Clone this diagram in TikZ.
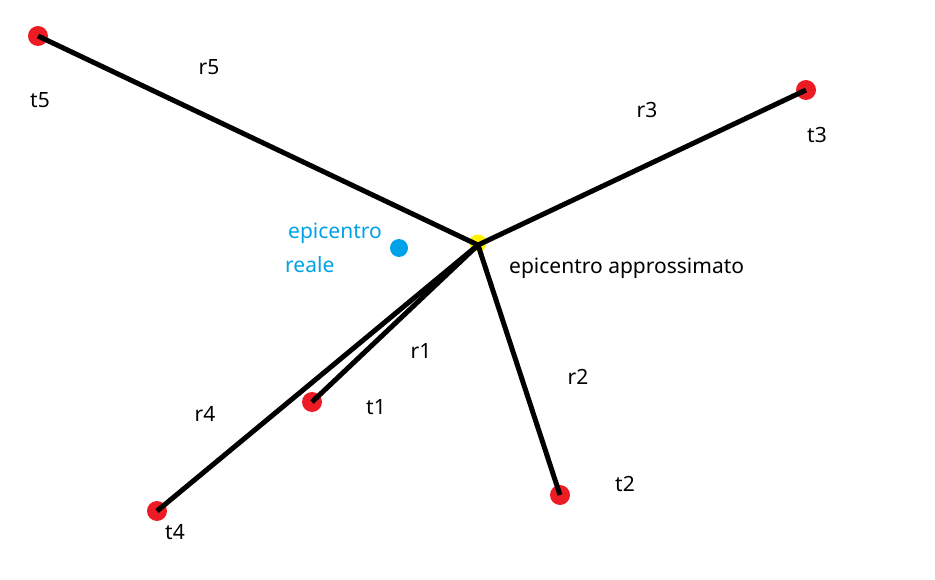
\documentclass[tikz,border=0pt]{standalone}
\usepackage{fontspec}
\setmainfont{Noto Sans}
\definecolor{pred}{HTML}{ED1C24}
\definecolor{pyel}{HTML}{FFF200}
\definecolor{pblue}{HTML}{00A2E8}
\begin{document}
\begin{tikzpicture}[x=1pt,y=-1pt,
  lbl/.style={inner sep=0pt,font=\fontsize{21}{25}\selectfont},
  station/.style={circle,fill=pred,minimum size=20pt,inner sep=0pt},
  ray/.style={line width=5pt,black}]
\useasboundingbox (0,0) rectangle (935,580);
\fill[white] (0,0) rectangle (935,580);
% stations
\node[station] (t5) at (38,36) {};
\node[station] (t3) at (806,90) {};
\node[station] (t1) at (312,402) {};
\node[station] (t4) at (157,511) {};
\node[station] (t2) at (560,495) {};
\node[circle,fill=pyel,minimum size=17pt,inner sep=0pt] (E) at (478,243) {};
\node[circle,fill=pblue,minimum size=18pt,inner sep=0pt] (R) at (399,248) {};
% rays
\draw[ray] (478,245) coordinate (Ec) -- (t5.center);
\draw[ray] (Ec) -- (t3.center);
\draw[ray] (Ec) -- (t1.center);
\draw[ray] (Ec) -- (t4.center);
\draw[ray] (Ec) -- (t2.center);
% labels
\node[lbl] (lr5) at (209,67) {r5};
\node[lbl] (lt5) at (40,100) {t5};
\node[lbl] (lr3) at (647,110) {r3};
\node[lbl] (lt3) at (817,135) {t3};
\node[lbl] (lr1) at (421,351) {r1};
\node[lbl] (lr2) at (578,377) {r2};
\node[lbl] (lr4) at (205,414) {r4};
\node[lbl] (lt1) at (376,407) {t1};
\node[lbl] (lt2) at (625,484) {t2};
\node[lbl] (lt4) at (175,532) {t4};
\node[lbl,anchor=west] (lapp) at (509,268) {epicentro approssimato};
\node[lbl,anchor=west,text=pblue] (lre1) at (288,233) {epicentro};
\node[lbl,anchor=west,text=pblue] (lre2) at (285,265) {reale};
\end{tikzpicture}
\end{document}
